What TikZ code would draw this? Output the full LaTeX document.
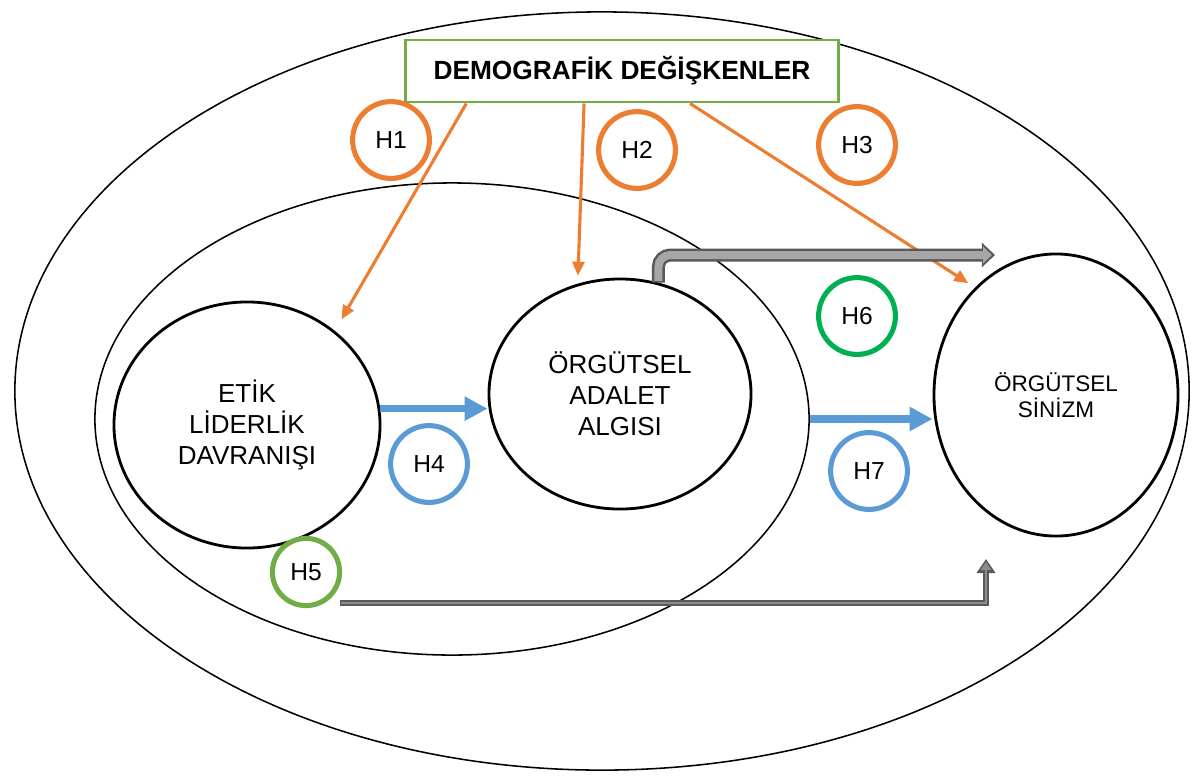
\documentclass[tikz,border=0pt]{standalone}
\usepackage{fontspec}
\setmainfont{Liberation Sans}
\usetikzlibrary{shapes.geometric, arrows.meta, calc}
\definecolor{hturuncu}{HTML}{ED7D31}
\definecolor{hyesil}{HTML}{70AD47}
\definecolor{hkoyuyesil}{HTML}{00B050}
\definecolor{hmavi}{HTML}{5B9BD5}
\definecolor{hgri}{HTML}{595959}
\definecolor{hacikgri}{HTML}{A6A6A6}
\definecolor{hortagri}{HTML}{8C8C8C}

\begin{document}
\begin{tikzpicture}[x=0.025cm, y=-0.025cm]
	\tikzstyle{every node}+=[inner sep=0pt]
	\tikzstyle{kume}=[draw=black, ellipse, line width=1.1pt, fill=white]
	\tikzstyle{degisken}=[draw=black, ellipse, line width=2pt, align=center, font=\fontsize{18.5}{22}\selectfont]
	\tikzstyle{hip}=[circle, line width=3.6pt, minimum size=1.92cm, font=\fontsize{17.5}{20}\selectfont]
	\tikzstyle{oku}=[hturuncu, line width=2.2pt, -{Triangle[length=0.35cm,width=0.3cm]}]
	\tikzstyle{maviok}=[hmavi, line width=0.18cm, -{Triangle[length=0.575cm,width=0.575cm]}]
	\useasboundingbox (0,0) rectangle (1200,778);
	\node[kume, minimum width=29.35cm, minimum height=18.95cm] (dis) at (602,391) {};
	\node[kume, minimum width=17.85cm, minimum height=11.8cm] (ic) at (452,419) {};
	\node[degisken, minimum width=6.65cm, minimum height=6.15cm] (etik) at (247,425) {ETİK\\LİDERLİK\\DAVRANIŞI};
	\node[degisken, minimum width=6.55cm, minimum height=5.75cm] (adalet) at (620,394) {ÖRGÜTSEL\\ADALET\\ALGISI};
	\node[degisken, minimum width=6.1cm, minimum height=7.05cm, font=\fontsize{16}{18.4}\selectfont] (sinizm) at (1056,395) {ÖRGÜTSEL\\SİNİZM};
	\node[draw=hyesil, fill=white, line width=2.1pt, minimum width=10.825cm, minimum height=1.55cm, font=\fontsize{18.7}{22}\selectfont\bfseries] (demo) at (622,71) {DEMOGRAFİK DEĞİŞKENLER};
	\node[hip, draw=hturuncu] (h1) at (391,140) {H1};
	\node[hip, draw=hturuncu] (h2) at (637,150) {H2};
	\node[hip, draw=hturuncu] (h3) at (857,145) {H3};
	\node[hip, draw=hmavi] (h4) at (429,464) {H4};
	\node[hip, draw=hyesil, minimum size=1.68cm] (h5) at (306,572) {H5};
	\node[hip, draw=hkoyuyesil] (h6) at (857,316) {H6};
	\node[hip, draw=hmavi] (h7) at (869,471) {H7};
	\coordinate (ustuc) at (995,255);
	\coordinate (altbas) at (340,603);
	\coordinate (altuc) at (986,559);
	\draw[oku, shorten >=0.33cm] ($(demo.south west)!0.143!(demo.south east)$) -- (etik.47);
	\draw[oku, shorten >=0.2cm] ($(demo.south west)!0.413!(demo.south east)$) -- (adalet.111);
	\draw[oku, shorten >=0.2cm] ($(demo.south west)!0.656!(demo.south east)$) -- (sinizm.127);
	\draw[maviok] (etik.7) -- (etik.7 -| adalet.west);
	\draw[maviok] (ic.east) -- (ic.east -| sinizm.west);
	\draw[hgri, line width=0.325cm, rounded corners=0.3cm, -{Triangle[length=0.33cm,width=0.6cm]}] (adalet.71) |- (ustuc);
	\draw[hacikgri, line width=0.2cm, rounded corners=0.3cm, shorten >=0.08cm, shorten <=0.04cm, -{Triangle[length=0.22cm,width=0.42cm]}] (adalet.71) |- (ustuc);
	\draw[hgri, line width=0.13cm, -{Triangle[length=0.35cm,width=0.45cm]}] (altbas) -| (altuc);
	\draw[hortagri, line width=0.035cm, shorten >=0.07cm, shorten <=0.02cm, -{Triangle[length=0.2cm,width=0.25cm]}] (altbas) -| (altuc);
\end{tikzpicture}
\end{document}
